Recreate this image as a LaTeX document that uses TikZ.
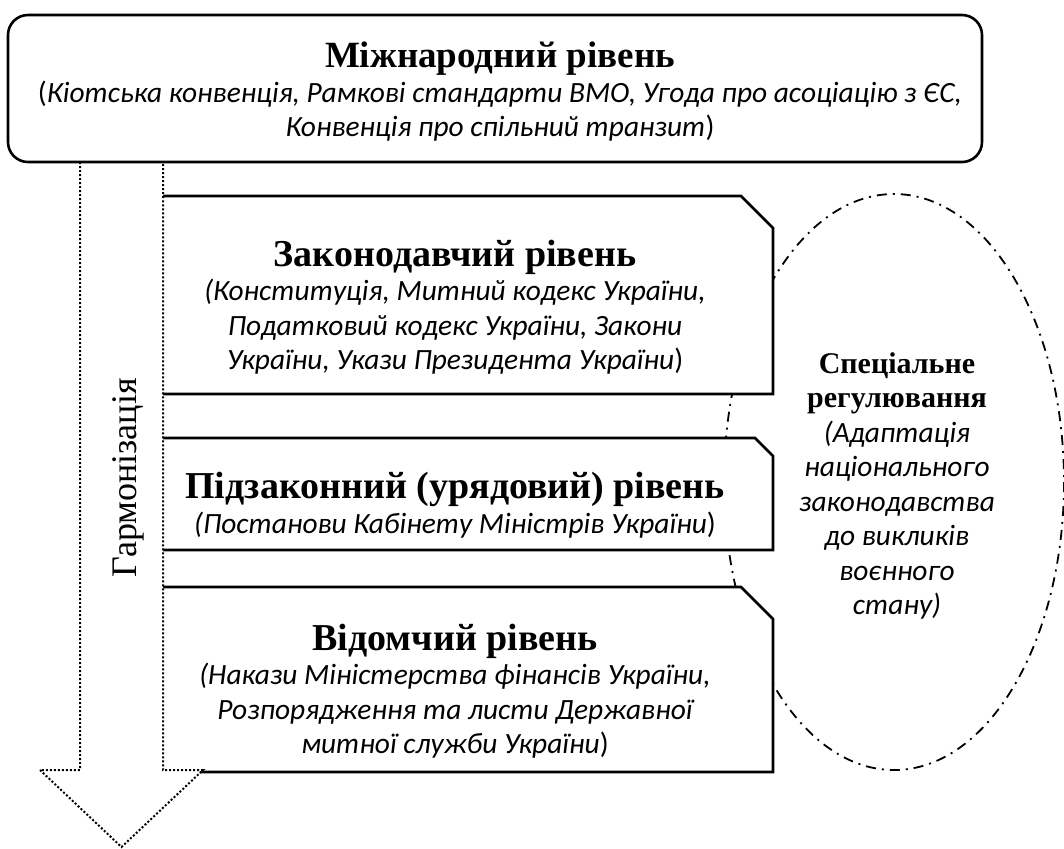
\documentclass[tikz,border=0pt]{standalone}
\usepackage{fontspec}
\setmainfont{Liberation Serif}
\newfontfamily\calfont{Carlito}
\usetikzlibrary{calc}

\newcommand{\lvltitle}[2][19]{{\rmfamily\upshape\bfseries\fontsize{#1}{17.25}\selectfont #2}}

\begin{document}
\begin{tikzpicture}[x=0.5pt, y=-0.5pt,
      Level/.style={draw, line width=1.3pt, fill=white},
      Harmon/.style={draw, line width=1pt, dash pattern=on 1pt off 1pt, fill=white},
      Special/.style={draw, line width=0.9pt, dash pattern=on 5pt off 3pt on 1pt off 3pt},
      Txt/.style={align=center, inner sep=0pt, font=\calfont\itshape\fontsize{14.7}{17.25}\selectfont},
      ]
      \useasboundingbox (0,0) rectangle (1064,848);

      % special regulation, behind the levels
      \draw[Special] (894,482) ellipse [x radius=170, y radius=288];

      % the three national levels
      \draw[Level] (160,196) -- (741,196) -- (773,228) -- (773,394) -- (160,394) -- cycle;
      \draw[Level] (160,438) -- (755,438) -- (773,456) -- (773,550) -- (160,550) -- cycle;
      \draw[Level] (160,587) -- (741,587) -- (773,619) -- (773,772) -- (160,772) -- cycle;

      % harmonisation arrow
      \draw[Harmon] (80,162) -- (80,770) -- (40,770) -- (121.5,847) -- (203,770) -- (163,770) -- (163,162);

      % international level
      \draw[Level, rounded corners=10pt] (8,15) rectangle (982,162);

      \node[Txt] (intl) at (500,92) {\lvltitle[18.5]{Міжнародний рівень}\\
        \textup{(}Кіотська конвенція, Рамкові стандарти ВМО, Угода про асоціацію з ЄС,\hspace*{14pt}\\
        Конвенція про спільний транзит\textup{)}};

      \node[Txt] (zak) at (455,307) {\lvltitle{Законодавчий рівень}\\
        (Конституція, Митний кодекс України,\\
        Податковий кодекс України, Закони\\
        України, Укази Президента України\textup{)}};

      \node[Txt] (pidz) at (455,505) {\lvltitle{Підзаконний (урядовий) рівень}\\
        (Постанови Кабінету Міністрів України\textup{)}};

      \node[Txt] (vid) at (455,691) {\lvltitle{Відомчий рівень}\\
        (Накази Міністерства фінансів України,\\
        Розпорядження та листи Державної\\
        митної служби України\textup{)}};

      \node[Txt] (spec) at (897,486) {\lvltitle[15]{Спеціальне}\\ \lvltitle[15]{регулювання}\\
        (Адаптація\\ національного\\ законодавства\\ до викликів\\ воєнного\\ стану)};

      \node[rotate=90, font=\fontsize{18}{20}\selectfont] (harm) at (128,478) {Гармонізація};
    \end{tikzpicture}
\end{document}
